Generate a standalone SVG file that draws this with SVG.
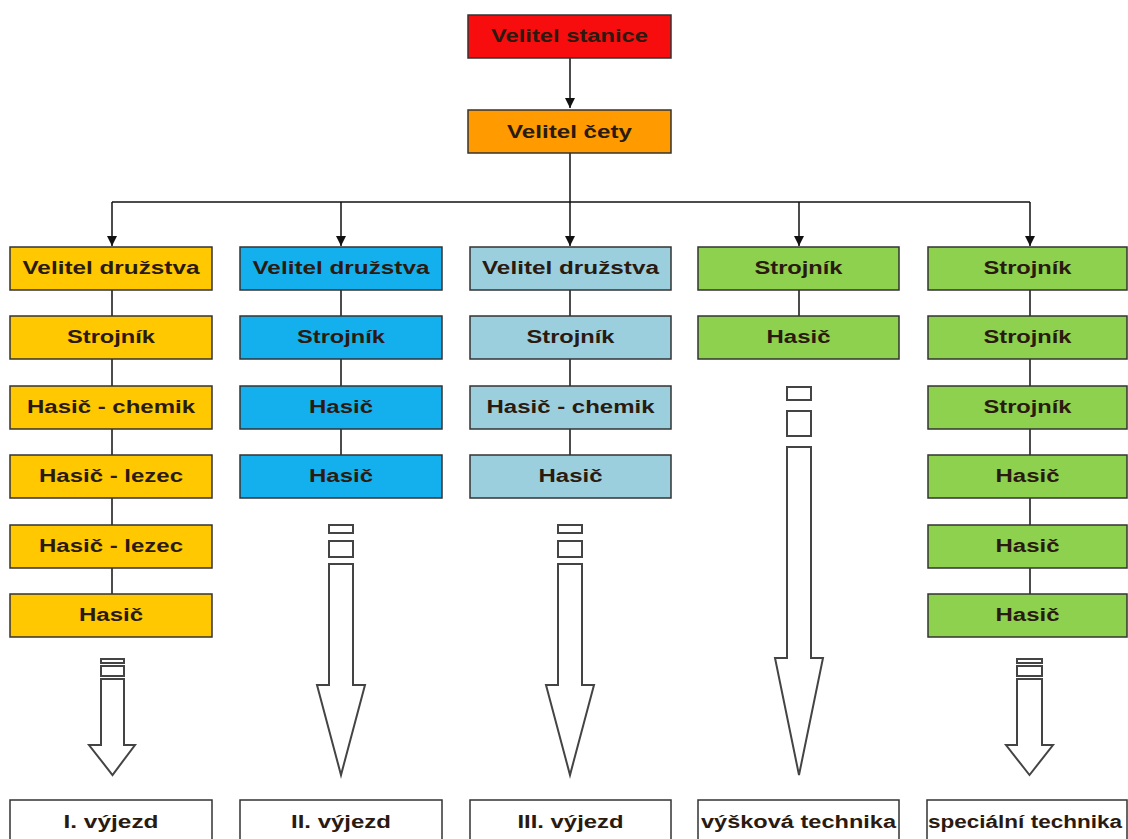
<svg xmlns="http://www.w3.org/2000/svg" width="1128" height="839" viewBox="0 0 1128 839">
<style>
.b{stroke:#333;stroke-width:1.5}
.t{font-family:"Liberation Sans",Arial,sans-serif;font-weight:bold;font-size:18px;fill:#2a1a10;text-anchor:middle}
.red{fill:#f70d0d}.ora{fill:#ff9a00}.yel{fill:#ffc800}.blu{fill:#14b0ee}.lbl{fill:#9ccfdd}.grn{fill:#8dd14e}.wht{fill:#fff}
.ln{stroke:#111;stroke-width:1.5;fill:none}
.blk{fill:#fff;stroke:#444;stroke-width:2}
</style>
<defs>
<marker id="ah" viewBox="0 0 10 10" refX="10" refY="5" markerWidth="10" markerHeight="10" markerUnits="userSpaceOnUse" orient="auto"><path d="M0,0 L10,5 L0,10 Z" fill="#111"/></marker>
</defs>
<rect width="1128" height="839" fill="#fff"/>
<g id="connectors">
<line class="ln" x1="570" y1="58" x2="570" y2="108" marker-end="url(#ah)"/>
<line class="ln" x1="570" y1="153" x2="570" y2="202"/>
<line class="ln" x1="112" y1="202" x2="1030" y2="202"/>
<line class="ln" x1="112" y1="202" x2="112" y2="246" marker-end="url(#ah)"/>
<line class="ln" x1="341" y1="202" x2="341" y2="246" marker-end="url(#ah)"/>
<line class="ln" x1="570" y1="202" x2="570" y2="246" marker-end="url(#ah)"/>
<line class="ln" x1="799" y1="202" x2="799" y2="246" marker-end="url(#ah)"/>
<line class="ln" x1="1030" y1="202" x2="1030" y2="246" marker-end="url(#ah)"/>
<line class="ln" x1="112" y1="290" x2="112" y2="594"/>
<line class="ln" x1="341" y1="290" x2="341" y2="455"/>
<line class="ln" x1="570" y1="290" x2="570" y2="455"/>
<line class="ln" x1="799" y1="290" x2="799" y2="316"/>
<line class="ln" x1="1030" y1="290" x2="1030" y2="594"/>
</g>
<g id="n-stanice"><rect class="b red" x="468" y="15" width="203" height="43"/><text class="t" x="569.5" y="42" textLength="157" lengthAdjust="spacingAndGlyphs">Velitel stanice</text></g>
<g id="n-cety"><rect class="b ora" x="468" y="110" width="203" height="43"/><text class="t" x="569.5" y="138" textLength="125" lengthAdjust="spacingAndGlyphs">Velitel čety</text></g>

<g id="c1r1"><rect class="b yel" x="10" y="247" width="202" height="43"/><text class="t" x="111" y="274" textLength="177" lengthAdjust="spacingAndGlyphs">Velitel družstva</text></g>
<g id="c1r2"><rect class="b yel" x="10" y="316" width="202" height="43"/><text class="t" x="111" y="343" textLength="88" lengthAdjust="spacingAndGlyphs">Strojník</text></g>
<g id="c1r3"><rect class="b yel" x="10" y="386" width="202" height="43"/><text class="t" x="111" y="413" textLength="168" lengthAdjust="spacingAndGlyphs">Hasič - chemik</text></g>
<g id="c1r4"><rect class="b yel" x="10" y="455" width="202" height="43"/><text class="t" x="111" y="482" textLength="144" lengthAdjust="spacingAndGlyphs">Hasič - lezec</text></g>
<g id="c1r5"><rect class="b yel" x="10" y="525" width="202" height="43"/><text class="t" x="111" y="552" textLength="144" lengthAdjust="spacingAndGlyphs">Hasič - lezec</text></g>
<g id="c1r6"><rect class="b yel" x="10" y="594" width="202" height="43"/><text class="t" x="111" y="621" textLength="64" lengthAdjust="spacingAndGlyphs">Hasič</text></g>

<g id="c2r1"><rect class="b blu" x="240" y="247" width="202" height="43"/><text class="t" x="341" y="274" textLength="177" lengthAdjust="spacingAndGlyphs">Velitel družstva</text></g>
<g id="c2r2"><rect class="b blu" x="240" y="316" width="202" height="43"/><text class="t" x="341" y="343" textLength="88" lengthAdjust="spacingAndGlyphs">Strojník</text></g>
<g id="c2r3"><rect class="b blu" x="240" y="386" width="202" height="43"/><text class="t" x="341" y="413" textLength="64" lengthAdjust="spacingAndGlyphs">Hasič</text></g>
<g id="c2r4"><rect class="b blu" x="240" y="455" width="202" height="43"/><text class="t" x="341" y="482" textLength="64" lengthAdjust="spacingAndGlyphs">Hasič</text></g>

<g id="c3r1"><rect class="b lbl" x="470" y="247" width="201" height="43"/><text class="t" x="570.5" y="274" textLength="177" lengthAdjust="spacingAndGlyphs">Velitel družstva</text></g>
<g id="c3r2"><rect class="b lbl" x="470" y="316" width="201" height="43"/><text class="t" x="570.5" y="343" textLength="88" lengthAdjust="spacingAndGlyphs">Strojník</text></g>
<g id="c3r3"><rect class="b lbl" x="470" y="386" width="201" height="43"/><text class="t" x="570.5" y="413" textLength="168" lengthAdjust="spacingAndGlyphs">Hasič - chemik</text></g>
<g id="c3r4"><rect class="b lbl" x="470" y="455" width="201" height="43"/><text class="t" x="570.5" y="482" textLength="64" lengthAdjust="spacingAndGlyphs">Hasič</text></g>

<g id="c4r1"><rect class="b grn" x="698" y="247" width="201" height="43"/><text class="t" x="798.5" y="274" textLength="88" lengthAdjust="spacingAndGlyphs">Strojník</text></g>
<g id="c4r2"><rect class="b grn" x="698" y="316" width="201" height="43"/><text class="t" x="798.5" y="343" textLength="64" lengthAdjust="spacingAndGlyphs">Hasič</text></g>

<g id="c5r1"><rect class="b grn" x="928" y="247" width="199" height="43"/><text class="t" x="1027.5" y="274" textLength="88" lengthAdjust="spacingAndGlyphs">Strojník</text></g>
<g id="c5r2"><rect class="b grn" x="928" y="316" width="199" height="43"/><text class="t" x="1027.5" y="343" textLength="88" lengthAdjust="spacingAndGlyphs">Strojník</text></g>
<g id="c5r3"><rect class="b grn" x="928" y="386" width="199" height="43"/><text class="t" x="1027.5" y="413" textLength="88" lengthAdjust="spacingAndGlyphs">Strojník</text></g>
<g id="c5r4"><rect class="b grn" x="928" y="455" width="199" height="43"/><text class="t" x="1027.5" y="482" textLength="64" lengthAdjust="spacingAndGlyphs">Hasič</text></g>
<g id="c5r5"><rect class="b grn" x="928" y="525" width="199" height="43"/><text class="t" x="1027.5" y="552" textLength="64" lengthAdjust="spacingAndGlyphs">Hasič</text></g>
<g id="c5r6"><rect class="b grn" x="928" y="594" width="199" height="43"/><text class="t" x="1027.5" y="621" textLength="64" lengthAdjust="spacingAndGlyphs">Hasič</text></g>

<g id="arrow1">
<rect class="blk" x="101" y="659" width="23" height="4"/><rect class="blk" x="101" y="666" width="23" height="10"/>
<path class="blk" d="M101,679 H124 V745 H135 L112.5,775 L89,745 H101 Z"/>
</g>
<g id="arrow2">
<rect class="blk" x="329" y="525" width="24" height="8"/><rect class="blk" x="329" y="541" width="24" height="16"/>
<path class="blk" d="M329,564 H353 V685 H365 L341,775 L317,685 H329 Z"/>
</g>
<g id="arrow3">
<rect class="blk" x="558" y="525" width="24" height="8"/><rect class="blk" x="558" y="541" width="24" height="16"/>
<path class="blk" d="M558,564 H582 V685 H594 L570,775 L546,685 H558 Z"/>
</g>
<g id="arrow4">
<rect class="blk" x="787" y="387" width="24" height="13"/><rect class="blk" x="787" y="411" width="24" height="25"/>
<path class="blk" d="M787,447 H811 V658 H823 L799,775 L775,658 H787 Z"/>
</g>
<g id="arrow5">
<rect class="blk" x="1017" y="659" width="25" height="4"/><rect class="blk" x="1017" y="666" width="25" height="10"/>
<path class="blk" d="M1017,679 H1042 V745 H1053 L1029.5,775 L1006,745 H1017 Z"/>
</g>

<g id="out1"><rect class="b wht" x="10" y="800" width="202" height="50"/><text class="t" x="111" y="828" textLength="95" lengthAdjust="spacingAndGlyphs">I. výjezd</text></g>
<g id="out2"><rect class="b wht" x="240" y="800" width="202" height="50"/><text class="t" x="341" y="828" textLength="100" lengthAdjust="spacingAndGlyphs">II. výjezd</text></g>
<g id="out3"><rect class="b wht" x="470" y="800" width="201" height="50"/><text class="t" x="570.5" y="828" textLength="106" lengthAdjust="spacingAndGlyphs">III. výjezd</text></g>
<g id="out4"><rect class="b wht" x="698" y="800" width="201" height="50"/><text class="t" x="798.5" y="828" textLength="195" lengthAdjust="spacingAndGlyphs">výšková technika</text></g>
<g id="out5"><rect class="b wht" x="927" y="800" width="200" height="50"/><text class="t" x="1025" y="828" textLength="194" lengthAdjust="spacingAndGlyphs">speciální technika</text></g>
</svg>
